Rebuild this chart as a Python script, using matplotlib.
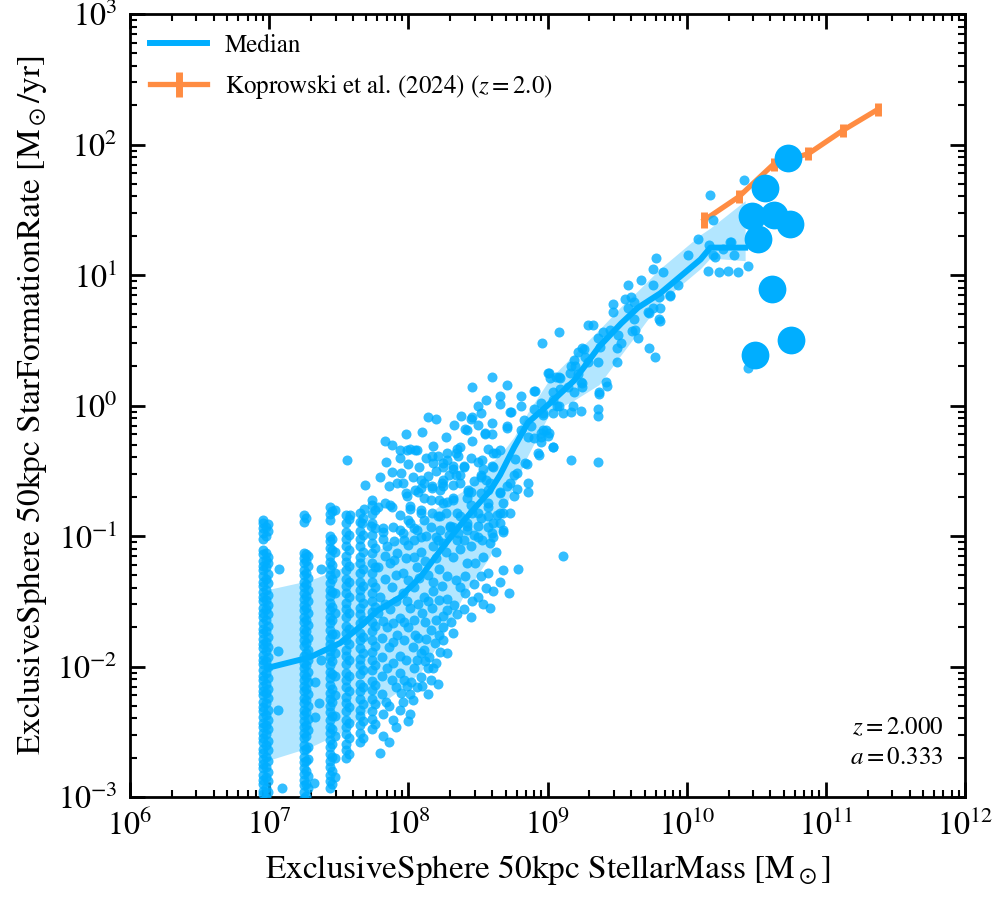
import numpy as np
import matplotlib
matplotlib.use("Agg")
import matplotlib.pyplot as plt
from matplotlib.ticker import LogLocator, NullFormatter

plt.rcParams['font.family'] = 'STIXGeneral'
plt.rcParams['mathtext.fontset'] = 'stix'

blue = '#00AEFF'
orange = '#FF8C42'

# low mass galaxies sit in columns (few star particles), log10 values
column_logm = [6.955, 6.975, 6.99, 7.25, 7.265, 7.28, 7.435, 7.45, 7.47, 7.555, 7.575, 7.655, 7.675,
               7.74, 7.76]
column_logsfr = [
    [-3.03, -2.98, -2.95, -2.90, -2.87, -2.83, -2.78, -2.75, -2.71, -2.66, -2.63, -2.58, -2.55, -2.51,
     -2.46, -2.43, -2.39, -2.34, -2.31, -2.27, -2.22, -2.19, -2.15, -2.10, -2.07, -2.03, -1.98, -1.95,
     -1.91, -1.86, -1.83, -1.79, -1.74, -1.71, -1.67, -1.62, -1.59, -1.55, -1.50, -1.47, -1.43, -1.38,
     -1.35, -1.31, -1.26, -1.23, -1.19, -1.14, -1.11, -1.02, -0.98, -0.94, -0.90, -0.88],
    [-3.01, -2.93, -2.85, -2.77, -2.69, -2.60, -2.52, -2.45, -2.37, -2.28, -2.20, -2.13, -2.05, -1.96,
     -1.88, -1.81, -1.73, -1.64, -1.56, -1.49, -1.41, -1.33, -1.24, -1.18, -1.13, -1.00, -0.93],
    [-2.96, -2.88, -2.81, -2.72, -2.64, -2.57, -2.48, -2.41, -2.33, -2.24, -2.17, -2.09, -2.00, -1.93,
     -1.85, -1.77, -1.69, -1.60, -1.53, -1.45, -1.36, -1.29, -1.21, -1.16, -0.96, -0.91],
    [-3.01, -2.96, -2.91, -2.87, -2.82, -2.78, -2.73, -2.69, -2.64, -2.60, -2.55, -2.51, -2.46, -2.42,
     -2.37, -2.33, -2.28, -2.24, -2.19, -2.15, -2.10, -2.06, -2.01, -1.97, -1.92, -1.84, -1.80, -1.75,
     -1.71, -1.66, -1.62, -1.57, -1.53, -1.48, -1.44, -1.39, -1.35, -1.30, -1.26, -1.21, -1.17, -1.13,
     -0.89, -0.84],
    [-2.99, -2.90, -2.80, -2.72, -2.63, -2.53, -2.45, -2.35, -2.26, -2.17, -2.08, -1.99, -1.90, -1.82,
     -1.73, -1.64, -1.55, -1.46, -1.37, -1.28, -1.19, -1.14, -0.86],
    [-2.93, -2.84, -2.71, -2.62, -2.49, -2.40, -2.30, -2.21, -2.12, -2.04, -1.95, -1.87, -1.78, -1.68,
     -1.59, -1.50, -1.41, -1.32, -1.23, -1.15],
    [-2.93, -2.88, -2.83, -2.77, -2.72, -2.67, -2.62, -2.56, -2.51, -2.46, -2.41, -2.35, -2.30, -2.25,
     -2.20, -2.14, -2.09, -2.04, -1.99, -1.93, -1.88, -1.83, -1.78, -1.72, -1.67, -1.62, -1.57, -1.51,
     -1.46, -1.41, -1.36, -1.30, -1.25, -1.20, -1.15, -1.09, -1.04, -1.00, -0.88, -0.83, -0.78],
    [-2.90, -2.80, -2.69, -2.59, -2.48, -2.38, -2.27, -2.17, -2.06, -1.96, -1.85, -1.75, -1.64, -1.54,
     -1.43, -1.33, -1.22, -1.11, -1.02, -0.81],
    [-2.85, -2.70, -2.53, -2.38, -2.22, -2.07, -1.90, -1.75, -1.59, -1.44, -1.28, -1.12],
    [-2.70, -2.64, -2.59, -2.52, -2.46, -2.41, -2.34, -2.28, -2.23, -2.16, -2.10, -2.05, -1.98, -1.92,
     -1.87, -1.80, -1.74, -1.69, -1.62, -1.56, -1.51, -1.44, -1.38, -1.33, -1.26, -1.20, -1.15, -1.08,
     -1.02, -0.97, -0.90, -0.84],
    [-2.67, -2.55, -2.43, -2.31, -2.19, -2.07, -1.95, -1.83, -1.71, -1.59, -1.47, -1.35, -1.23, -1.11,
     -0.99, -0.87],
    [-2.58, -2.51, -2.45, -2.38, -2.33, -2.25, -2.19, -2.13, -2.06, -1.99, -1.94, -1.86, -1.80, -1.74,
     -1.67, -1.60, -1.55, -1.47, -1.41, -1.35, -1.28, -1.21, -1.16, -1.08, -1.02, -0.96, -0.89, -0.82],
    [-2.55, -2.42, -2.29, -2.16, -2.03, -1.90, -1.77, -1.64, -1.51, -1.38, -1.25, -1.12, -0.99, -0.86],
    [-2.48, -2.40, -2.34, -2.25, -2.18, -2.11, -2.03, -1.95, -1.89, -1.80, -1.73, -1.66, -1.58, -1.50,
     -1.44, -1.35, -1.28, -1.21, -1.13, -1.05, -0.99, -0.90, -0.83, -0.76, -0.72],
    [-2.44, -2.29, -2.14, -1.99, -1.84, -1.69, -1.54, -1.39, -1.24, -1.09, -0.94, -0.80],
]

lowmass_pts = [
    (7.07, -1.25), (7.06, -1.88), (7.06, -2.33), (7.09, -2.93), (7.37, -1.25), (7.37, -1.95),
    (7.33, -2.12), (7.36, -2.28), (7.33, -2.39), (7.32, -2.89), (7.56, -0.42), (7.69, -0.61),
    (7.68, -0.79), (7.67, -0.90), (7.73, -0.92), (7.47, -0.80), (7.58, -0.84),
]

dense_pts = [
    (7.92, -0.59), (7.99, -0.69), (8.09, -0.63), (8.17, -0.62), (8.25, -0.62), (8.45, -0.66), (8.52, -0.67),
    (8.66, -0.66), (8.76, -0.69), (8.11, -0.71), (8.22, -0.72), (8.32, -0.72), (8.42, -0.71),
    (7.78, -0.78), (7.87, -0.76), (7.94, -0.84), (8.01, -0.79), (8.09, -0.80), (8.17, -0.82), (8.27, -0.82),
    (8.37, -0.85), (8.46, -0.82), (8.57, -0.85), (8.68, -0.82), (8.73, -0.82), (8.00, -0.88),
    (7.82, -0.97), (7.89, -0.93), (7.96, -0.98), (8.06, -0.95), (8.16, -0.93), (8.23, -0.95), (8.32, -0.93),
    (8.42, -0.92), (8.50, -0.92), (8.61, -0.90), (8.68, -0.95),
    (7.85, -1.08), (7.92, -1.13), (8.00, -1.07), (8.09, -1.12), (8.18, -1.08), (8.25, -1.05), (8.32, -1.16),
    (8.42, -1.21), (8.48, -1.21), (8.54, -1.16), (8.40, -1.03),
    (7.78, -1.24), (7.87, -1.21), (7.96, -1.28), (8.06, -1.24), (8.14, -1.30), (8.22, -1.25), (8.28, -1.31),
    (8.34, -1.34), (8.41, -1.31), (8.52, -1.31), (8.68, -1.26), (8.79, -1.25),
    (7.80, -1.47), (7.88, -1.39), (7.96, -1.44), (8.04, -1.39), (8.11, -1.47), (8.18, -1.42), (8.28, -1.48),
    (8.41, -1.44), (8.61, -1.42), (8.72, -1.44),
    (7.78, -1.59), (7.87, -1.56), (7.94, -1.63), (8.01, -1.55), (8.10, -1.59), (8.17, -1.55), (8.25, -1.61),
    (8.54, -1.52), (8.59, -1.55), (8.28, -1.57),
    (7.85, -1.70), (7.92, -1.76), (8.00, -1.70), (8.07, -1.78), (8.16, -1.72), (8.25, -1.70),
    (7.86, -1.85), (7.94, -1.92), (8.03, -1.85), (8.09, -1.90), (8.19, -1.82), (8.23, -1.89), (8.28, -1.90),
    (8.11, -1.87),
    (7.85, -2.01), (7.94, -2.05), (8.04, -2.01), (8.09, -2.08), (8.14, -2.01), (8.18, -2.01),
    (7.81, -2.21), (7.91, -2.16), (8.01, -2.21), (8.06, -2.16), (7.99, -2.15), (8.14, -2.21), (8.21, -2.13),
    (8.03, -2.26), (7.82, -2.36), (7.94, -2.33), (8.01, -2.36), (7.89, -2.41), (7.91, -2.46), (7.82, -2.53),
    (7.82, -1.02), (7.90, -1.04), (7.97, -1.03), (8.04, -1.03), (8.13, -1.00), (8.20, -1.01), (8.29, -0.99),
    (8.36, -0.98), (8.47, -0.99),
    (7.83, -1.15), (7.90, -1.18), (7.98, -1.17), (8.04, -1.16), (8.12, -1.19), (8.20, -1.17), (8.27, -1.12),
    (8.37, -1.10),
    (7.83, -1.33), (7.91, -1.30), (8.00, -1.34), (8.08, -1.32), (8.18, -1.35), (8.24, -1.38), (8.37, -1.39),
    (8.47, -1.37), (8.57, -1.28),
    (7.83, -1.52), (7.91, -1.50), (7.99, -1.50), (8.07, -1.52), (8.14, -1.50), (8.22, -1.49), (8.33, -1.53),
    (8.46, -1.50),
    (7.82, -1.65), (7.89, -1.67), (7.97, -1.66), (8.04, -1.64), (8.12, -1.66), (8.20, -1.64), (8.31, -1.66),
    (7.81, -1.78), (7.89, -1.81), (7.97, -1.80), (8.05, -1.76), (8.13, -1.79), (8.22, -1.76),
    (7.81, -1.93), (7.89, -1.97), (7.98, -1.95), (8.06, -1.95), (8.15, -1.93),
    (7.81, -2.07), (7.88, -2.10), (7.97, -2.10), (8.02, -2.12), (7.84, -2.27), (7.96, -2.27),
    (7.80, -0.55), (7.86, -0.62), (7.95, -0.52), (8.03, -0.55), (8.14, -0.54), (8.20, -0.50), (8.29, -0.53),
    (8.47, -0.58), (8.56, -0.57), (7.84, -0.43), (8.00, -0.45), (8.08, -0.47), (8.13, -0.40), (8.28, -0.42),
    (8.45, -0.40), (8.57, -0.33), (7.98, -0.22), (8.10, -0.20), (8.27, -0.24), (8.33, -0.15), (8.50, -0.15),
    (8.38, -0.08), (8.56, 0.04), (8.45, -1.08), (8.53, -1.03), (8.63, -1.12), (8.56, -1.40), (8.66, -1.35),
    (8.50, -1.47), (7.86, -2.30), (7.95, -2.20), (8.10, -2.15), (8.00, -2.42), (7.86, -2.58), (7.80, -2.66),
    (8.12, -1.96), (8.20, -1.97), (8.16, -2.10), (8.25, -1.80), (8.32, -1.74), (8.35, -1.60), (8.40, -1.56),
    (8.45, -1.62),
]

upper_pts = [
    (8.60, 0.22), (8.71, 0.16), (8.46, 0.14), (9.01, 0.25), (8.90, 0.11), (8.66, 0.07), (8.81, 0.07),
    (8.66, 0.01), (8.50, 0.00), (8.52, -0.06), (8.46, -0.09), (8.74, -0.05), (8.14, -0.09), (8.20, -0.10),
    (8.60, -0.13), (8.71, -0.16), (8.41, -0.18), (8.55, -0.22), (8.60, -0.22), (8.46, -0.27), (7.83, -0.27),
    (7.88, -0.30), (8.18, -0.31), (7.94, -0.34), (8.01, -0.33), (8.05, -0.34), (7.94, -0.40), (8.17, -0.39),
    (8.21, -0.39), (8.35, -0.33), (8.36, -0.39), (8.63, -0.36), (8.66, -0.34), (8.18, -0.44), (8.25, -0.47),
    (8.32, -0.46), (8.40, -0.46), (8.53, -0.42), (8.60, -0.46), (8.77, -0.41), (8.85, -0.45), (8.94, -0.38),
    (9.04, -0.32), (7.88, -0.51), (8.34, -0.53), (8.37, -0.53), (8.52, -0.53), (8.76, -0.53), (8.86, -0.59),
    (8.11, -0.59), (8.24, -0.59), (8.32, -0.61), (8.17, -0.63), (8.43, -0.66), (8.57, -0.65), (8.71, -0.62),
    (8.78, -0.64), (8.86, -0.66), (7.98, -0.67), (8.07, -0.66), (7.83, -0.75), (7.88, -0.78), (8.01, -0.77),
    (8.16, -0.72), (8.28, -0.74), (8.45, -0.76), (8.57, -0.75), (8.66, -0.82), (8.09, -0.82), (8.23, -0.85),
    (8.35, -0.82), (8.52, -0.86), (8.60, -0.98), (7.82, -0.94), (7.94, -0.95), (8.04, -0.94), (8.30, -0.92),
    (8.42, -0.95),
]

mid_pts = [
    (8.96, 0.48), (9.08, 0.56), (9.00, 0.25), (9.09, 0.21), (9.06, 0.22), (9.02, 0.21), (8.91, 0.11),
    (8.81, 0.00), (9.07, 0.00), (8.73, -0.05), (8.90, -0.03), (8.97, -0.06), (9.11, -0.06), (9.18, 0.00),
    (9.24, -0.04), (9.36, -0.03), (9.36, -0.08), (8.45, -0.10), (8.71, -0.17), (8.83, -0.11), (8.81, -0.19),
    (8.88, -0.16), (8.97, -0.19), (9.01, -0.21), (8.95, -0.24), (8.90, -0.25), (9.17, -0.42), (9.36, -0.43),
    (8.42, -0.19), (8.55, -0.21), (8.86, -0.24), (8.93, -0.36), (8.84, -0.44), (8.78, -0.52), (8.73, -0.59),
    (8.66, -0.67), (8.68, -0.75), (8.66, -0.90), (8.68, -0.97), (8.61, -1.01), (8.37, -0.32), (8.34, -0.36),
    (8.28, -0.36), (8.06, -0.34), (7.99, -0.34), (8.25, -0.44), (8.32, -0.49), (8.40, -0.47), (8.50, -0.43),
    (8.61, -0.36), (8.54, -0.49), (8.61, -0.47), (8.52, -0.55), (8.59, -0.59), (8.43, -0.65), (8.37, -0.59),
    (8.25, -0.57), (8.23, -0.65), (8.09, -0.57), (8.05, -0.65), (7.96, -0.59), (8.25, -0.75), (8.32, -0.71),
    (8.50, -0.82), (8.57, -0.78), (8.64, -0.84), (8.57, -0.93), (8.42, -0.90), (8.30, -0.93), (8.21, -0.85),
    (8.11, -0.88), (8.01, -0.90), (8.09, -1.01), (8.21, -1.03), (8.35, -1.03), (8.50, -1.01), (8.59, -1.05),
    (9.11, -1.15),
]

high_pts = [
    (9.78, 1.13), (10.01, 1.15), (9.76, 1.05), (9.83, 1.02), (9.67, 0.96), (9.58, 0.92), (9.76, 0.92),
    (9.88, 0.85), (9.60, 0.83), (9.56, 0.82), (9.47, 0.78), (9.62, 0.79), (9.47, 0.72), (9.72, 0.72),
    (9.81, 0.75), (9.80, 0.66), (9.62, 0.66), (9.63, 0.58), (9.65, 0.52), (9.29, 0.62), (9.33, 0.62),
    (9.40, 0.56), (9.36, 0.52), (9.45, 0.58), (9.51, 0.54), (9.50, 0.44), (9.38, 0.45), (9.73, 0.44),
    (9.77, 0.37), (9.50, 0.33), (9.22, 0.41), (9.25, 0.44), (9.27, 0.37), (9.19, 0.35), (9.36, 0.33),
    (9.17, 0.30), (9.22, 0.24), (9.24, 0.18), (9.42, 0.18), (9.43, 0.15), (9.37, 0.09), (9.25, 0.14),
    (9.15, 0.14), (9.19, 0.10),
    (10.08, 1.28), (10.19, 1.15), (10.15, 1.03), (10.23, 1.02), (10.30, 1.03), (10.37, 1.02), (10.32, 1.25),
    (10.26, 1.20), (9.94, 0.92), (9.88, 0.84), (9.80, 0.83), (9.76, 0.75), (9.73, 0.71), (9.58, 0.75),
    (9.81, 0.65), (9.61, 0.57), (9.53, 0.48), (9.26, 0.43), (9.29, 0.33), (9.20, 0.30), (9.16, 0.25),
    (9.08, 0.22), (9.25, 0.17), (9.37, 0.10), (9.09, 0.13), (9.04, 0.10), (9.04, 0.04), (8.95, 0.02),
    (9.08, 0.00), (9.17, -0.05), (9.04, -0.06), (8.97, -0.07), (8.99, -0.19), (8.95, -0.21), (9.00, -0.23),
    (8.95, -0.28), (9.04, -0.32),
    (10.41, 1.73), (10.17, 1.61), (10.19, 1.42), (10.16, 1.23), (10.31, 1.25), (10.34, 1.15), (10.20, 1.14),
    (10.44, 1.07), (10.44, 0.29),
]

# most massive galaxies, drawn large
big_logm = [10.73, 10.56, 10.47, 10.63, 10.74, 10.51, 10.61, 10.75, 10.49]
big_logsfr = [1.90, 1.67, 1.45, 1.46, 1.39, 1.28, 0.89, 0.50, 0.39]

# binned median and 16-84 percentile band
med_logm = [6.99, 7.29, 7.51, 7.68, 7.78, 7.94, 8.09, 8.23, 8.40, 8.59, 8.66, 8.76, 8.86, 9.02, 9.19,
            9.37, 9.53, 9.65, 9.81, 10.10, 10.17, 10.42]
med_logsfr = [-2.01, -1.93, -1.82, -1.67, -1.57, -1.47, -1.31, -1.11, -0.88, -0.65, -0.53, -0.32, -0.13,
              0.02, 0.19, 0.45, 0.63, 0.75, 0.86, 1.12, 1.21, 1.21]
p84_logsfr = [-1.41, -1.34, -1.25, -1.17, -1.11, -1.01, -0.89, -0.76, -0.65, -0.44, -0.38, -0.24, -0.05,
              0.21, 0.39, 0.58, 0.76, 0.88, 1.05, 1.31, 1.36, 1.57]
p16_logsfr = [-2.72, -2.62, -2.51, -2.37, -2.30, -2.18, -2.04, -1.80, -1.45, -1.15, -0.88, -0.61, -0.38,
              -0.05, 0.04, 0.16, 0.39, 0.56, 0.79, 1.05, 1.13, 1.11]

# Koprowski et al. (2024) z=2.0
kop_logm = [10.125, 10.375, 10.625, 10.875, 11.125, 11.375]
kop_logsfr = [1.42, 1.60, 1.85, 1.93, 2.11, 2.27]
kop_err = [0.06, 0.05, 0.05, 0.05, 0.05, 0.05]


m_all = []
s_all = []
for lm, col in zip(column_logm, column_logsfr):
    m_all += [lm] * len(col)
    s_all += col
for pts in [lowmass_pts, dense_pts, upper_pts, mid_pts, high_pts]:
    m_all += [p[0] for p in pts]
    s_all += [p[1] for p in pts]
m_all = 10 ** np.array(m_all)
s_all = 10 ** np.array(s_all)

fig = plt.figure(figsize=(9.96, 9.0), dpi=100)
ax = fig.add_axes([0.1305, 0.1144, 0.8384, 0.8700])

kl = np.array(kop_logsfr)
ke = np.array(kop_err)
kop_s = 10 ** kl
ax.errorbar(10 ** np.array(kop_logm), kop_s,
            yerr=[kop_s - 10 ** (kl - ke), 10 ** (kl + ke) - kop_s],
            color=orange, lw=3.8, elinewidth=5, capsize=0, zorder=1,
            label='Koprowski et al. (2024) ($z=2.0$)')

ax.fill_between(10 ** np.array(med_logm), 10 ** np.array(p16_logsfr), 10 ** np.array(p84_logsfr),
                color=blue, alpha=0.3, lw=0, zorder=2)
ax.scatter(m_all, s_all, s=52, color=blue, alpha=0.8, lw=0, zorder=3)
ax.plot(10 ** np.array(med_logm), 10 ** np.array(med_logsfr), color=blue, lw=4.3, zorder=4, label='Median')
ax.scatter(10 ** np.array(big_logm), 10 ** np.array(big_logsfr), s=400, color=blue, lw=0, zorder=5)

ax.set_xscale('log')
ax.set_yscale('log')
ax.set_xlim(1e6, 1e12)
ax.set_ylim(1e-3, 1e3)
ax.set_xticks([1e6, 1e7, 1e8, 1e9, 1e10, 1e11, 1e12])
ax.set_yticks([1e-3, 1e-2, 1e-1, 1e0, 1e1, 1e2, 1e3])
for axis in [ax.xaxis, ax.yaxis]:
    axis.set_minor_locator(LogLocator(base=10, subs=np.arange(2, 10), numticks=20))
    axis.set_minor_formatter(NullFormatter())
ax.tick_params(which='both', direction='in', top=True, right=True, labelsize=23, pad=9)
ax.tick_params(which='major', length=11, width=2)
ax.tick_params(which='minor', length=5, width=1.5)
for sp in ax.spines.values():
    sp.set_linewidth(2)

ax.set_xlabel(r'ExclusiveSphere 50kpc StellarMass [$\mathrm{M}_\odot$]', fontsize=24, labelpad=8)
ax.set_ylabel(r'ExclusiveSphere 50kpc StarFormationRate [$\mathrm{M}_\odot$/yr]', fontsize=24, labelpad=6)

ax.legend(loc='upper left', frameon=False, fontsize=18, handlelength=2.3, handletextpad=0.7,
          labelspacing=0.55, borderaxespad=0.4)
ax.text(0.974, 0.035, '$z=2.000$\n$a=0.333$', transform=ax.transAxes, ha='right', va='bottom',
        fontsize=18, linespacing=1.3)

fig.savefig('out.png', dpi=100)
